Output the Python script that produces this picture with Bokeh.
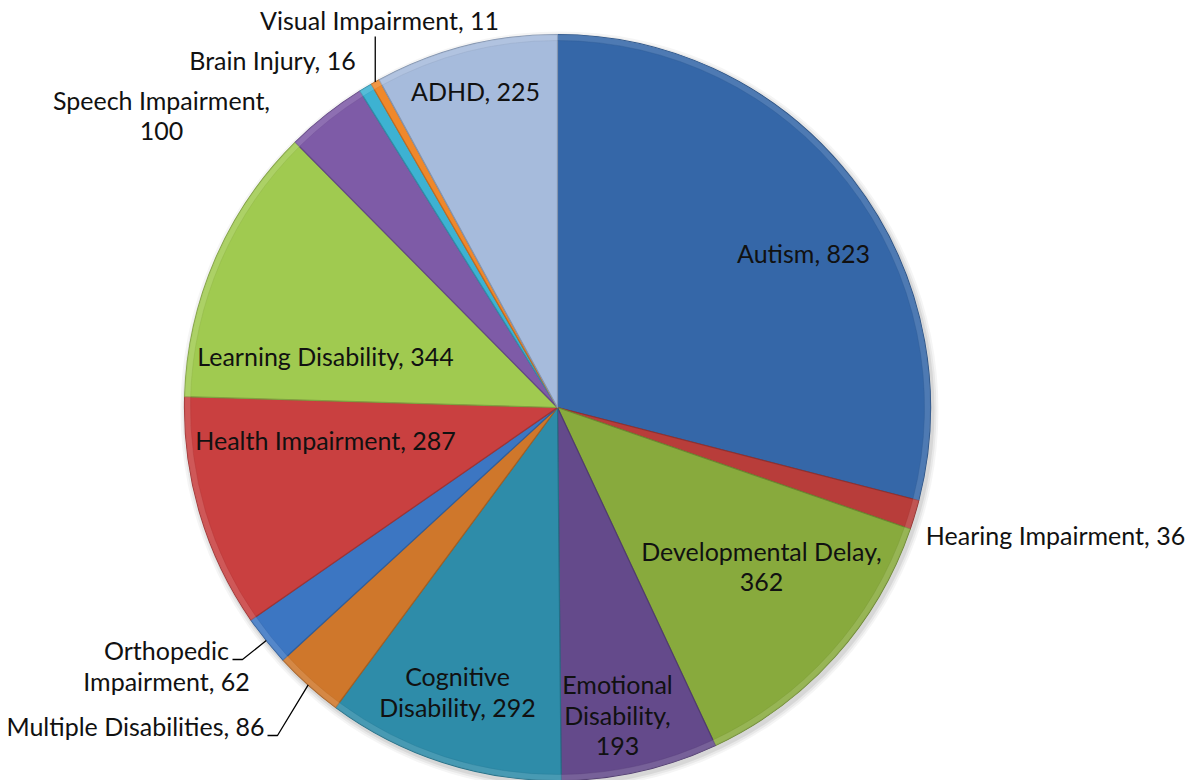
import math
from bokeh.plotting import figure
from bokeh.models import Range1d
from bokeh.core.properties import value
from bokeh.embed import file_html
from bokeh.resources import INLINE

# ---- data ----
categories = ["Autism", "Hearing Impairment", "Developmental Delay", "Emotional Disability",
              "Cognitive Disability", "Multiple Disabilities", "Orthopedic Impairment",
              "Health Impairment", "Learning Disability", "Speech Impairment",
              "Brain Injury", "Visual Impairment", "ADHD"]
counts = [823, 36, 362, 193, 292, 86, 62, 287, 344, 100, 16, 11, 225]
colors = ["#3567A8", "#B83D3A", "#88AA3D", "#644A8B", "#2E8CA9", "#CF772B", "#3C76C2",
          "#C94040", "#A0CA50", "#7E5BA7", "#3DB2D2", "#EF882B", "#A6BBDC"]

# ---- layout (screen pixels) ----
W, H = 1197, 780
CX, CY, R = 557, 407, 373
FONT = "Lato"
FS = "25px"
LINE_H = 31
TEXT_DY = -3
# label block centre and line split for each category
label_layout = {
    "Autism": ((803, 255), ["{c}, {v}"]),
    "Hearing Impairment": ((1055, 537), ["{c}, {v}"]),
    "Developmental Delay": ((761, 569), ["{c},", "{v}"]),
    "Emotional Disability": ((617, 717), ["{a}", "{b},", "{v}"]),
    "Cognitive Disability": ((457, 694), ["{a}", "{b}, {v}"]),
    "Multiple Disabilities": ((135, 728), ["{c}, {v}"]),
    "Orthopedic Impairment": ((166, 668), ["{a}", "{b}, {v}"]),
    "Health Impairment": ((325, 442), ["{c}, {v}"]),
    "Learning Disability": ((325, 358), ["{c}, {v}"]),
    "Speech Impairment": ((161, 118), ["{c},", "{v}"]),
    "Brain Injury": ((272, 62), ["{c}, {v}"]),
    "Visual Impairment": ((379, 22), ["{c}, {v}"]),
    "ADHD": ((475, 93), ["{c}, {v}"]),
}
# leader lines: (start of horizontal run, elbow x, y) -> slice edge
leaders = {
    "Orthopedic Impairment": (232, 242, 659),
    "Multiple Disabilities": (267, 277, 735),
    "Visual Impairment": None,
}

p = figure(width=W, height=H, output_backend="svg", toolbar_location=None,
           x_range=Range1d(0, W), y_range=Range1d(-H, 0),
           min_border=0, outline_line_color=None)
p.axis.visible = False
p.grid.visible = False
p.background_fill_color = "white"

total = sum(counts)
starts, ends = [], []
cum = 0
for v in counts:
    a0 = math.pi / 2 - 2 * math.pi * cum / total
    cum += v
    a1 = math.pi / 2 - 2 * math.pi * cum / total
    starts.append(a1)
    ends.append(a0)


def darker(hx, f):
    r, g, b = int(hx[1:3], 16), int(hx[3:5], 16), int(hx[5:7], 16)
    return "#%02x%02x%02x" % (int(r * f), int(g * f), int(b * f))


def lighter(hx, f):
    r, g, b = int(hx[1:3], 16), int(hx[3:5], 16), int(hx[5:7], 16)
    return "#%02x%02x%02x" % (int(r + (255 - r) * f), int(g + (255 - g) * f), int(b + (255 - b) * f))


# soft shadow
for k, a in [(6, 0.04), (4, 0.05), (2, 0.07)]:
    p.circle(x=CX + 2, y=-(CY + 3), radius=R + k, fill_color="black", fill_alpha=a, line_color=None)

# slices
p.wedge(x=CX, y=-CY, radius=R, start_angle=starts, end_angle=ends,
        fill_color=colors, line_color=[darker(c, 0.8) for c in colors], line_width=1.2)
# rim bevel highlight
p.annular_wedge(x=CX, y=-CY, inner_radius=R - 6, outer_radius=R, start_angle=starts, end_angle=ends,
                fill_color=[lighter(c, 0.25) for c in colors], fill_alpha=0.5, line_color=None)
p.arc(x=CX, y=-CY, radius=R - 6, start_angle=starts, end_angle=ends,
      line_color=[darker(c, 0.9) for c in colors], line_width=1, line_alpha=0.4)

# labels
tx, ty, tt = [], [], []
for c, v in zip(categories, counts):
    (lx, ly), lines = label_layout[c]
    parts = c.split(" ")
    a, b = parts[0], " ".join(parts[1:])
    n = len(lines)
    for i, fmt in enumerate(lines):
        tx.append(lx)
        ty.append(-(ly + TEXT_DY + (i - (n - 1) / 2) * LINE_H))
        tt.append(fmt.format(c=c, v=v, a=a, b=b))
p.text(x=tx, y=ty, text=tt, text_align="center", text_baseline="middle",
       text_font=value(FONT), text_font_size=FS, text_color="#111111")

# leader lines to slice mid-angle at the rim
for i, c in enumerate(categories):
    if c not in leaders:
        continue
    mid = (starts[i] + ends[i]) / 2
    ex, ey = CX + R * math.cos(mid), CY - R * math.sin(mid)
    lay = leaders[c]
    if lay is None:
        (lx, ly), _ = label_layout[c]
        xs, ys = [ex, ex], [-(ly + 14), -ey]
    else:
        x0, x1, yy = lay
        xs, ys = [x0, x1, ex], [-yy, -yy, -ey]
    p.line(x=xs, y=ys, line_color="black", line_width=1.3)

open("out.html", "w").write(file_html(p, INLINE))
